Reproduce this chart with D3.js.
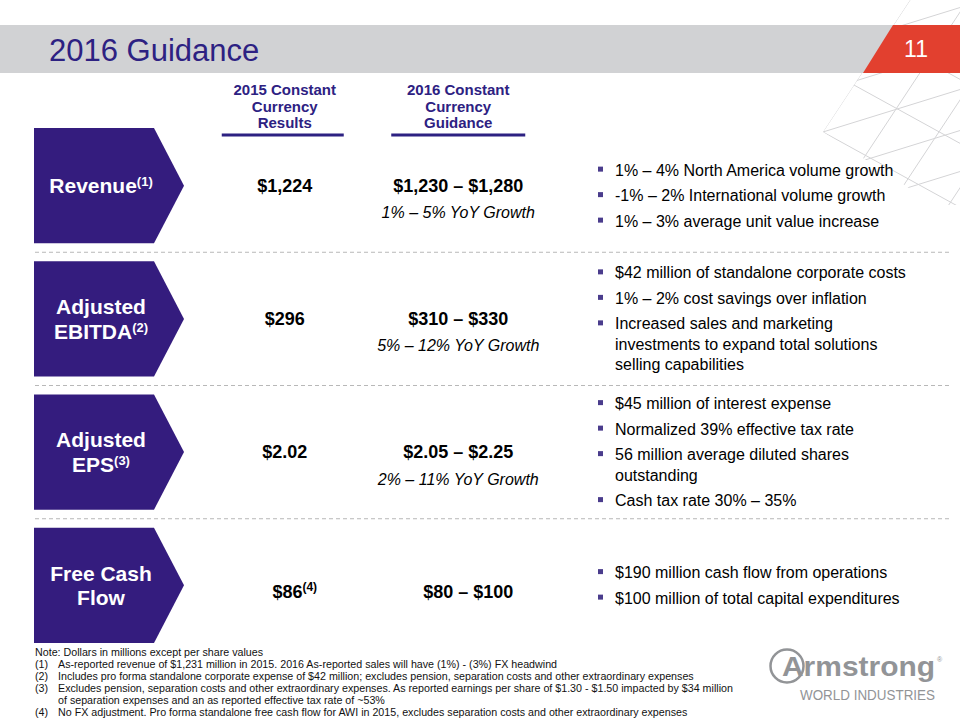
<!DOCTYPE html>
<html>
<head>
<meta charset="utf-8">
<script src="https://cdn.jsdelivr.net/npm/d3@7"></script>
<style>
  body { margin: 0; background: #fff; }
  svg { display: block; font-family: Arial, "Liberation Sans", sans-serif; }
</style>
</head>
<body>
<svg width="960" height="720"></svg>
<script>
// slide content
const title = "2016 Guidance";
const pageNumber = "11";
const columnHeaders = [
  ["2015 Constant", "Currency", "Results"],
  ["2016 Constant", "Currency", "Guidance"]
];
const metrics = ["Revenue", "Adjusted EBITDA", "Adjusted EPS", "Free Cash Flow"];
const metricLines = [["Revenue"], ["Adjusted", "EBITDA"], ["Adjusted", "EPS"], ["Free Cash", "Flow"]];
const metricNotes = ["(1)", "(2)", "(3)", ""];
const results2015 = ["$1,224", "$296", "$2.02", "$86"];
const results2015Notes = ["", "", "", "(4)"];
const guidance2016 = ["$1,230 – $1,280", "$310 – $330", "$2.05 – $2.25", "$80 – $100"];
const growth = ["1% – 5% YoY Growth", "5% – 12% YoY Growth", "2% – 11% YoY Growth", ""];
const bullets = [
  [["1% – 4% North America volume growth"], ["-1% – 2% International volume growth"], ["1% – 3% average unit value increase"]],
  [["$42 million of standalone corporate costs"], ["1% – 2% cost savings over inflation"],
   ["Increased sales and marketing", "investments to expand total solutions", "selling capabilities"]],
  [["$45 million of interest expense"], ["Normalized 39% effective tax rate"],
   ["56 million average diluted shares", "outstanding"], ["Cash tax rate 30% – 35%"]],
  [["$190 million cash flow from operations"], ["$100 million of total capital expenditures"]]
];
const footNote = "Note: Dollars in millions except per share values";
const footNums = ["(1)", "(2)", "(3)", "", "(4)"];
const footTexts = [
  "As-reported revenue of $1,231 million in 2015. 2016 As-reported sales will have (1%) - (3%) FX headwind",
  "Includes pro forma standalone corporate expense of $42 million; excludes pension, separation costs and other extraordinary expenses",
  "Excludes pension, separation costs and other extraordinary expenses.  As reported earnings per share of $1.30 - $1.50 impacted by $34 million",
  "of separation expenses and an as reported effective tax rate of ~53%",
  "No FX adjustment. Pro forma standalone free cash flow for AWI in 2015, excludes separation costs and other extraordinary expenses"
];

const purple = "#341c7e";
const titleColor = "#2d2182";
const svg = d3.select("svg");

// ---- decorative lattice in the top right
const defs = svg.append("defs");
defs.append("clipPath").attr("id", "latticeClip")
  .append("path")
  .attr("d", "M910,0 L960,0 L960,205 L935,205 L823,132 Z");
const lat = svg.append("g").attr("clip-path", "url(#latticeClip)")
  .attr("stroke", "#d4d4d6").attr("stroke-width", 1).attr("fill", "none");
[910, 968, 1026, 1084].forEach(x0 => {
  lat.append("line").attr("x1", x0).attr("y1", 0).attr("x2", x0 - 0.66 * 220).attr("y2", 220);
});
[4, 68, 132, 196].forEach(y0 => {
  lat.append("line").attr("x1", 800).attr("y1", y0 - 0.55 * 23).attr("x2", 980).attr("y2", y0 + 0.55 * 157);
});
[9, 50, 91, 132, 173, 214].forEach(y0 => {
  lat.append("line").attr("x1", 800).attr("y1", y0 + 0.31 * 23).attr("x2", 980).attr("y2", y0 - 0.31 * 157);
});

// ---- header band
svg.append("rect").attr("x", 0).attr("y", 25).attr("width", 960).attr("height", 48).attr("fill", "#d1d2d4");
svg.append("path").attr("d", "M893,25 L960,25 L960,73 L863,73 Z").attr("fill", "#e2402f");
svg.append("text").attr("x", 49).attr("y", 61).attr("font-size", 31)
  .attr("fill", titleColor).text(title);
svg.append("text").attr("x", 916).attr("y", 57).attr("text-anchor", "middle")
  .attr("font-family", "'Liberation Sans Narrow', Arial, sans-serif")
  .attr("font-size", 23).attr("fill", "#fff").text(pageNumber);

// ---- scales
const y = d3.scaleBand().domain(metrics).range([128, 643]).paddingInner(0.135).paddingOuter(0);
const x = d3.scaleBand().domain([0, 1]).range([198, 545]);
const colX = i => x(i) + x.bandwidth() / 2;
const underlineHalf = [61, 67];

// column headers
const head = svg.append("g").selectAll("g").data(columnHeaders).join("g")
  .attr("transform", (d, i) => `translate(${colX(i)},0)`);
head.selectAll("text").data(d => d).join("text")
  .attr("y", (d, i) => 95 + i * 16.5)
  .attr("text-anchor", "middle").attr("font-size", 15).attr("font-weight", "bold")
  .attr("fill", titleColor).text(d => d);
head.append("line")
  .attr("x1", (d, i) => -underlineHalf[i] - (i === 0 ? 2 : 0))
  .attr("x2", (d, i) => underlineHalf[i] - (i === 0 ? 2 : 0))
  .attr("y1", 135).attr("y2", 135)
  .attr("stroke", titleColor).attr("stroke-width", 3);

// dashed separators
svg.append("g").selectAll("line").data(metrics.slice(1)).join("line")
  .attr("x1", 35).attr("x2", 950)
  .attr("y1", d => y(d) - (y.step() - y.bandwidth()) / 2)
  .attr("y2", d => y(d) - (y.step() - y.bandwidth()) / 2)
  .attr("stroke", "#b8b8b8").attr("stroke-dasharray", "4,3");

// pentagon boxes
const boxX = 34, boxRight = 154, boxTip = 184;
const rows = svg.append("g").selectAll("g").data(metrics).join("g")
  .attr("transform", d => `translate(0,${y(d)})`);
const bh = y.bandwidth();
rows.append("path")
  .attr("d", `M${boxX},0 L${boxRight},0 L${boxTip},${bh / 2} L${boxRight},${bh} L${boxX},${bh} Z`)
  .attr("fill", purple);
rows.each(function (d, i) {
  const g = d3.select(this);
  const lines = metricLines[i];
  const cx = 101;
  lines.forEach((ln, j) => {
    const t = g.append("text").attr("x", cx).attr("text-anchor", "middle")
      .attr("y", bh / 2 + 7.5 + (j - (lines.length - 1) / 2) * 24.5)
      .attr("font-size", 21).attr("font-weight", "bold").attr("fill", "#fff");
    t.append("tspan").text(ln);
    if (j === lines.length - 1 && metricNotes[i]) {
      t.append("tspan").attr("font-size", 13).attr("dy", -7).text(metricNotes[i]);
    }
  });

  // 2015 result and 2016 guidance
  const hasGrowth = growth[i] !== "";
  const vy = hasGrowth ? bh / 2 + 6 : bh / 2 + 13;
  const shift = hasGrowth ? 0 : 10;
  const r = g.append("text").attr("x", colX(0) + shift).attr("y", vy)
    .attr("text-anchor", "middle").attr("font-size", 18).attr("font-weight", "bold").attr("fill", "#000");
  r.append("tspan").text(results2015[i]);
  if (results2015Notes[i]) r.append("tspan").attr("font-size", 12).attr("dy", -7).text(results2015Notes[i]);

  g.append("text").attr("x", colX(1) + shift).attr("y", vy)
    .attr("text-anchor", "middle").attr("font-size", 18).attr("font-weight", "bold").attr("fill", "#000")
    .text(guidance2016[i]);
  if (hasGrowth) {
    g.append("text").attr("x", colX(1)).attr("y", vy + 26.5)
      .attr("text-anchor", "middle").attr("font-size", 16).attr("font-style", "italic").attr("fill", "#000")
      .text(growth[i]);
  }

  // bullets
  const items = bullets[i];
  const gapItem = 25.5, gapLine = 20.5;
  let total = 0;
  items.forEach((it, k) => { total += (k > 0 ? gapItem : 0) + (it.length - 1) * gapLine; });
  let cy = bh / 2 - total / 2 + (i === 0 ? 10 : 0);
  items.forEach((it, k) => {
    if (k > 0) cy += gapItem;
    g.append("rect").attr("x", 598).attr("y", cy - 3.5).attr("width", 5).attr("height", 5).attr("fill", "#4a3c8c");
    it.forEach((ln, m) => {
      g.append("text").attr("x", 615).attr("y", cy + 5.5 + m * gapLine)
        .attr("font-size", 16).attr("fill", "#000").text(ln);
    });
    cy += (it.length - 1) * gapLine;
  });
});

// ---- footnotes
const foot = svg.append("g").attr("font-family", "'Liberation Sans Narrow', Arial, sans-serif")
  .attr("font-size", 10.7).attr("fill", "#111");
foot.append("text").attr("x", 35).attr("y", 656).text(footNote);
foot.selectAll(".fn").data(footTexts).join("text").attr("class", "fn")
  .attr("x", 58).attr("y", (d, i) => 668 + i * 12).text(d => d);
foot.selectAll(".fnum").data(footNums).join("text").attr("class", "fnum")
  .attr("x", 35).attr("y", (d, i) => 668 + i * 12).text(d => d);

// ---- logo
const logo = svg.append("g").attr("fill", "#929497");
logo.append("circle").attr("cx", 787).attr("cy", 666).attr("r", 16.5)
  .attr("fill", "none").attr("stroke", "#929497").attr("stroke-width", 2.5);
logo.append("text").attr("x", 782).attr("y", 676).attr("font-size", 27).attr("font-weight", "bold")
  .attr("textLength", 153).attr("lengthAdjust", "spacingAndGlyphs").text("Armstrong");
logo.append("text").attr("x", 937).attr("y", 662).attr("font-size", 7).text("®");
logo.append("text").attr("x", 800).attr("y", 700).attr("font-size", 14)
  .attr("textLength", 135).attr("lengthAdjust", "spacingAndGlyphs").text("WORLD INDUSTRIES");
</script>
</body>
</html>
